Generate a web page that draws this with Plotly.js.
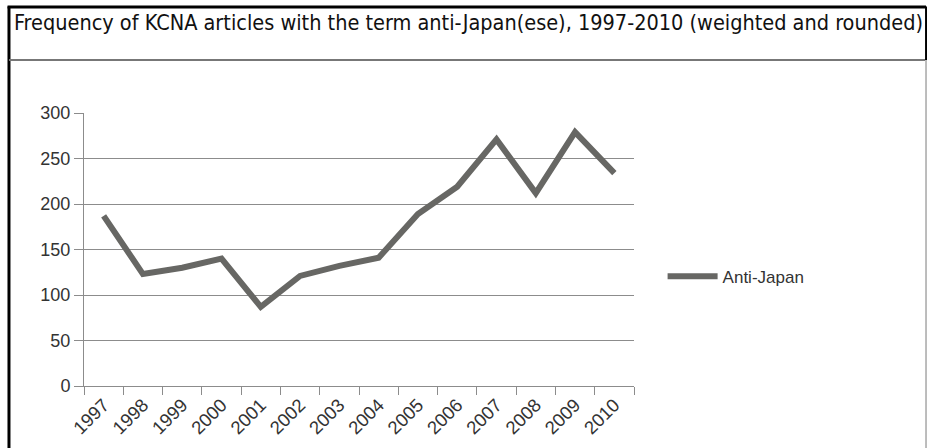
<!DOCTYPE html>
<html>
<head>
<meta charset="utf-8">
<script src="https://cdn.plot.ly/plotly-3.0.1.min.js"></script>
<style>
html,body{margin:0;padding:0;background:#fff;}
#chart{width:927px;height:448px;}
</style>
</head>
<body>
<div id="chart"></div>
<script>
var years = ['1997','1998','1999','2000','2001','2002','2003','2004','2005','2006','2007','2008','2009','2010'];
var antiJapan = [187,123,130,140,87,121,132,141,189,219,271,212,279,234];
var seriesName = 'Anti-Japan';
var chartTitle = 'Frequency of KCNA articles with the term anti-Japan(ese), 1997-2010 (weighted and rounded)';
var yTicks = [0,50,100,150,200,250,300];

var trace = {
  x: years, y: antiJapan, type: 'scatter', mode: 'lines', name: seriesName,
  line: {color: '#676764', width: 6, shape: 'linear'}
};

var layout = {
  width: 927, height: 448,
  margin: {l: 84, r: 293, t: 113, b: 62},
  paper_bgcolor: '#ffffff', plot_bgcolor: '#ffffff',
  font: {family: 'Liberation Sans, Arial, sans-serif', color: '#333333', size: 17},
  showlegend: true,
  legend: {x: 1.052, y: 0.4, xanchor: 'left', yanchor: 'middle', font: {size: 17, color: '#333333'}, itemwidth: 50, bgcolor: 'rgba(0,0,0,0)'},
  xaxis: {
    type: 'category', tickson: 'boundaries', showgrid: false,
    showline: true, linecolor: '#8c8c8c', linewidth: 1,
    ticks: 'outside', ticklen: 8, tickcolor: '#8c8c8c',
    tickangle: -45, tickfont: {size: 18.5, color: '#333333'},
    range: [-0.5, 13.5], zeroline: false
  },
  yaxis: {
    range: [0, 300], tickvals: yTicks, showgrid: true, gridcolor: '#8c8c8c', gridwidth: 1,
    showline: true, linecolor: '#8c8c8c', linewidth: 1,
    ticks: 'outside', ticklen: 9, tickcolor: '#8c8c8c',
    tickfont: {size: 18, color: '#333333'}, zeroline: false
  },
  shapes: [
    {type: 'line', xref: 'paper', yref: 'paper', x0: -0.1364, x1: -0.1364, y0: 1.39, y1: -0.23, line: {color: '#000000', width: 3}},
    {type: 'line', xref: 'paper', yref: 'paper', x0: -0.139, x1: 1.531, y0: 1.388, y1: 1.388, line: {color: '#000000', width: 3}},
    {type: 'line', xref: 'paper', yref: 'paper', x0: -0.1364, x1: 1.531, y0: 1.194, y1: 1.194, line: {color: '#777777', width: 2}},
    {type: 'line', xref: 'paper', yref: 'paper', x0: 1.531, x1: 1.531, y0: 1.39, y1: 1.194, line: {color: '#000000', width: 2}},
    {type: 'line', xref: 'paper', yref: 'paper', x0: 1.531, x1: 1.531, y0: 1.194, y1: -0.23, line: {color: '#bbbbbb', width: 2}}
  ],
  annotations: [
    {xref: 'paper', yref: 'paper', x: -0.131, y: 1.333, xanchor: 'left', yanchor: 'middle', showarrow: false,
     text: chartTitle, font: {family: 'DejaVu Sans Condensed, sans-serif', size: 21.5, color: '#111111'}}
  ]
};

Plotly.newPlot('chart', [trace], layout, {displayModeBar: false, staticPlot: true});
</script>
</body>
</html>
